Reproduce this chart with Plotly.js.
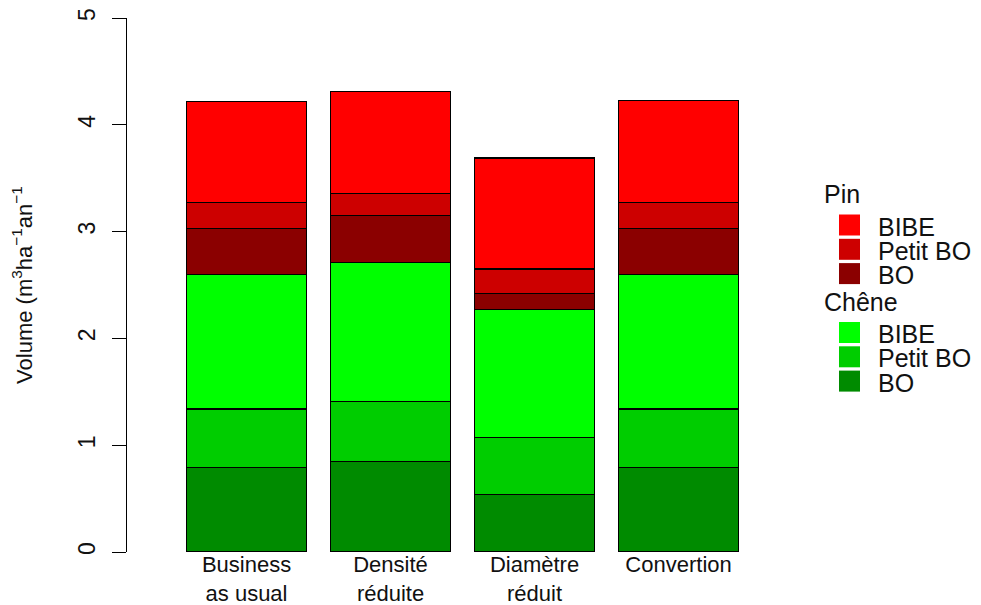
<!DOCTYPE html>
<html>
<head>
<meta charset="utf-8">
<script src="https://cdn.plot.ly/plotly-3.0.1.min.js"></script>
<style>html,body{margin:0;padding:0;background:#fff;}#chart{width:981px;height:605px;}</style>
</head>
<body>
<div id="chart"></div>
<script>
var scenarios = ["Business<br>as usual", "Densité<br>réduite", "Diamètre<br>réduit", "Convertion"];

// Stacked from bottom to top
var cheneBO      = [0.79, 0.85, 0.54, 0.79];
var chenePetitBO = [0.55, 0.56, 0.53, 0.55];
var cheneBIBE    = [1.26, 1.30, 1.20, 1.26];
var pinBO        = [0.43, 0.44, 0.15, 0.43];
var pinPetitBO   = [0.24, 0.21, 0.23, 0.24];
var pinBIBE      = [0.95, 0.95, 1.04, 0.96];

var seriesNames  = ["BO", "Petit BO", "BIBE", "BO", "Petit BO", "BIBE"];
var seriesGroups = ["Chêne", "Chêne", "Chêne", "Pin", "Pin", "Pin"];
var seriesValues = [cheneBO, chenePetitBO, cheneBIBE, pinBO, pinPetitBO, pinBIBE];
var seriesColors = ["#008B00", "#00CD00", "#00FF00", "#8B0000", "#CD0000", "#FF0000"];

// legend content (top to bottom)
var legendGroups = ["Pin", "Chêne"];
var legendLabels = ["BIBE", "Petit BO", "BO"];
var legendColors = [["#FF0000", "#CD0000", "#8B0000"], ["#00FF00", "#00CD00", "#008B00"]];

var FONT = "Liberation Sans, Arial, sans-serif";
var TXT = "#111";

var traces = [];
for (var i = 0; i < seriesValues.length; i++) {
  traces.push({
    type: "bar",
    x: scenarios,
    y: seriesValues[i],
    name: seriesGroups[i] + " " + seriesNames[i],
    marker: {color: seriesColors[i], line: {color: "#000", width: 1.3}},
    showlegend: false,
    hoverinfo: "skip"
  });
}

// plot-area geometry (pixels) used to place the manual legend
var W = 981, H = 605, ML = 127, MR = 191, MT = 18, MB = 53;
var PW = W - ML - MR, PH = H - MT - MB;
function px(x) { return (x - ML) / PW; }
function py(y) { return (H - MB - y) / PH; }

var shapes = [], annotations = [];
var groupTop = [194, 301.5];
for (var g = 0; g < legendGroups.length; g++) {
  annotations.push({
    xref: "paper", yref: "paper", x: px(822), y: py(groupTop[g]),
    xanchor: "left", yanchor: "middle", showarrow: false,
    text: legendGroups[g], font: {family: FONT, size: 25, color: TXT}
  });
  for (var k = 0; k < legendLabels.length; k++) {
    var cy = groupTop[g] + 31 + k * 24.3;
    shapes.push({
      type: "rect", xref: "paper", yref: "paper",
      x0: px(839), x1: px(860), y0: py(cy - 10.5), y1: py(cy + 10.5),
      fillcolor: legendColors[g][k], line: {width: 0}
    });
    annotations.push({
      xref: "paper", yref: "paper", x: px(876), y: py(cy + 1.5),
      xanchor: "left", yanchor: "middle", showarrow: false,
      text: legendLabels[k], font: {family: FONT, size: 25, color: TXT}
    });
  }
}

var layout = {
  width: W,
  height: H,
  barmode: "stack",
  bargap: 0.167,
  paper_bgcolor: "#fff",
  plot_bgcolor: "#fff",
  margin: {l: ML, r: MR, t: MT, b: MB, pad: 0},
  font: {family: FONT, color: TXT, size: 22},
  showlegend: false,
  shapes: shapes,
  annotations: annotations,
  xaxis: {
    type: "category",
    range: [-0.83, 3.774],
    showline: false,
    showgrid: false,
    zeroline: false,
    ticks: "",
    ticklabelstandoff: -3,
    tickfont: {family: FONT, size: 22, color: TXT},
    fixedrange: true
  },
  yaxis: {
    range: [0, 5],
    tickvals: [0, 1, 2, 3, 4, 5],
    ticktext: ["0", "1", "2", "3", "4", "5"],
    showline: true,
    linecolor: "#000",
    linewidth: 1,
    ticks: "outside",
    ticklen: 14,
    tickwidth: 1,
    tickcolor: "#000",
    tickangle: -90,
    ticklabelstandoff: 8,
    showgrid: false,
    zeroline: false,
    tickfont: {family: FONT, size: 23, color: TXT},
    title: {
      text: "Volume (m<sup>3</sup>ha<sup>−1</sup>an<sup>−1</sup>",
      font: {family: FONT, size: 22, color: TXT},
      standoff: 35
    },
    fixedrange: true
  }
};

Plotly.newPlot("chart", traces, layout, {displayModeBar: false, staticPlot: true});
</script>
</body>
</html>
